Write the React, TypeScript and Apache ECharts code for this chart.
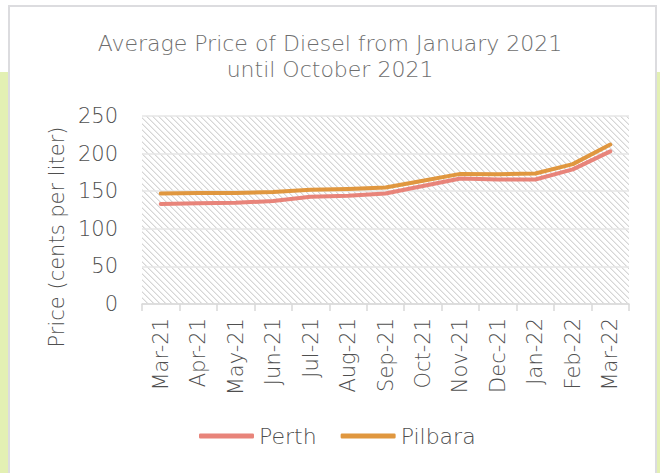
import React, { useEffect, useRef } from "react";
import * as echarts from "echarts";

const categories = ["Mar-21", "Apr-21", "May-21", "Jun-21", "Jul-21", "Aug-21", "Sep-21", "Oct-21", "Nov-21", "Dec-21", "Jan-22", "Feb-22", "Mar-22"];
const perth = [133, 134, 134.5, 137, 142.5, 144, 147, 157, 167, 165.5, 165.5, 179, 203];
const pilbara = [147, 147.5, 147.5, 149, 152, 153, 155, 164, 173, 172.5, 173.5, 186, 212];
const yTicks = { min: 0, max: 250, interval: 50 };

const FONT = "'DejaVu Sans', sans-serif";
const W = 200;
const TEXT = "#4f4f4f";

function makeHatch(): HTMLCanvasElement {
  const c = document.createElement("canvas");
  const n = 6;
  c.width = n;
  c.height = n;
  const ctx = c.getContext("2d")!;
  ctx.fillStyle = "#ffffff";
  ctx.fillRect(0, 0, n, n);
  for (let y = 0; y < n; y++) {
    for (let x = 0; x < n; x++) {
      const d = (((x - y) % n) + n) % n;
      if (d === 0) {
        ctx.fillStyle = "#d6d6d6";
        ctx.fillRect(x, y, 1, 1);
      } else if (d === 1) {
        ctx.fillStyle = "#ebebeb";
        ctx.fillRect(x, y, 1, 1);
      }
    }
  }
  return c;
}

export default function App() {
  const ref = useRef<HTMLDivElement>(null);
  useEffect(() => {
    const chart = echarts.init(ref.current!, undefined, { renderer: "svg" });
    const hatch = makeHatch();
    chart.setOption({
      animation: false,
      title: {
        text: "Average Price of Diesel from January 2021\nuntil October 2021",
        left: "center",
        top: 30,
        padding: 0,
        textStyle: { fontFamily: FONT, fontSize: 22, fontWeight: W, color: "#6e6e6e", lineHeight: 26 },
      },
      grid: {
        left: 142,
        right: 31,
        top: 116,
        bottom: 169,
        show: true,
        borderWidth: 0,
        backgroundColor: { image: hatch, repeat: "repeat" } as any,
      },
      legend: {
        left: 199,
        top: 425,
        padding: 0,
        icon: "roundRect",
        itemWidth: 55,
        itemHeight: 5,
        itemGap: 24,
        textStyle: { fontFamily: FONT, fontSize: 22, fontWeight: W, color: TEXT },
        data: ["Perth", "Pilbara"],
      },
      xAxis: {
        type: "category",
        data: categories,
        boundaryGap: true,
        axisLine: { lineStyle: { color: "#d9d9d9", width: 1.5 } },
        axisTick: { show: true, length: 7, lineStyle: { color: "#d9d9d9", width: 1.5 } },
        axisLabel: { rotate: 90, interval: 0, margin: 14, fontFamily: FONT, fontSize: 21, fontWeight: W, color: TEXT },
        splitLine: { show: false },
      },
      yAxis: {
        type: "value",
        min: yTicks.min,
        max: yTicks.max,
        interval: yTicks.interval,
        axisLine: { show: false },
        axisTick: { show: false },
        axisLabel: { margin: 24, fontFamily: FONT, fontSize: 21, fontWeight: W, color: TEXT },
        splitLine: { lineStyle: { color: "#e6e6e6", width: 1.5 } },
      },
      graphic: [
        {
          type: "text",
          x: 57,
          y: 237,
          rotation: Math.PI / 2,
          style: {
            text: "Price (cents per liter)",
            fontFamily: FONT,
            fontSize: 21,
            fontWeight: W,
            fill: TEXT,
            align: "center",
            verticalAlign: "middle",
          },
        },
      ],
      series: [
        {
          name: "Perth",
          type: "line",
          data: perth,
          symbol: "none",
          lineStyle: { color: "#e8847a", width: 4, cap: "round", join: "round" },
          itemStyle: { color: "#e8847a" },
        },
        {
          name: "Pilbara",
          type: "line",
          data: pilbara,
          symbol: "none",
          lineStyle: { color: "#e0973f", width: 4, cap: "round", join: "round" },
          itemStyle: { color: "#e0973f" },
        },
      ],
    });
    return () => chart.dispose();
  }, []);
  return (
    <div style={{ position: "fixed", left: 0, top: 0, width: 660, height: 473, background: "#fff", overflow: "hidden" }}>
      <div style={{ position: "absolute", left: 0, top: 72, width: 8, height: 401, background: "#e3f0b3" }} />
      <div style={{ position: "absolute", left: 657, top: 72, width: 3, height: 401, background: "#e3f0b3" }} />
      <div style={{ position: "absolute", left: 8, top: 5, width: 645, height: 480, border: "2px solid #dcdcdf", background: "#fff" }} />
      <div ref={ref} style={{ position: "absolute", left: 0, top: 0, width: 660, height: 473 }} />
    </div>
  );
}
